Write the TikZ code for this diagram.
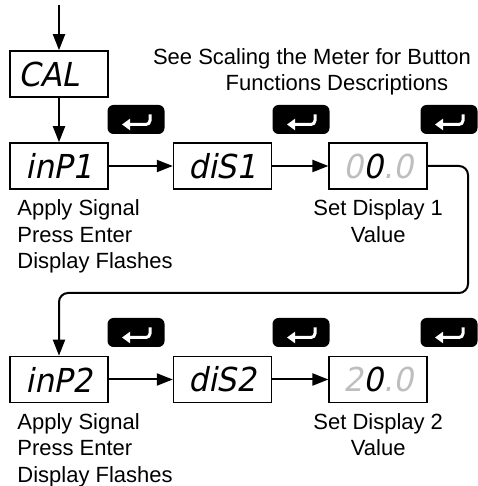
\documentclass[tikz,border=0pt]{standalone}
\usepackage{fontspec}
\setmainfont{Liberation Sans}
\newfontfamily\segfont[FakeSlant=0.2,FakeStretch=0.95]{DejaVu Sans}
\usetikzlibrary{arrows.meta,positioning}
\definecolor{segoff}{RGB}{190,190,190}
\tikzset{
  >={Triangle[length=16pt,width=12pt]},
  lcd/.style={draw,line width=1.6pt,minimum width=98pt,minimum height=46pt,
    inner sep=0pt,font=\segfont\fontsize{33}{33}\selectfont},
  enter/.style={fill=black,rounded corners=6pt,minimum width=57pt,
    minimum height=29pt,inner sep=0pt},
  flow/.style={->,line width=2pt},
  caption/.style={font=\fontsize{22}{26.5}\selectfont,inner sep=0pt},
  % return key pictogram
  pics/retkey/.style={code={
    \draw[white,line width=3pt,rounded corners=4pt,-{Triangle[length=8pt,width=11pt]}]
      (14,5) -- (14,-5) -- (-14,-5);
  }},
}

\begin{document}
\begin{tikzpicture}[x=1pt,y=1pt]
  \useasboundingbox (0,0) rectangle (477,486);
  % displays
  \node[lcd] (cal) at (59,412) {CAL\hphantom{0}};
  \node[lcd] (inp1) at (59,320) {inP1};
  \node[lcd,right=64pt of inp1] (dis1) {diS1};
  \node[lcd,right=56pt of dis1] (val1) {{\color{segoff}0}0{\color{segoff}.0}};
  \node[lcd] (inp2) at (59,106.5) {inP2};
  \node[lcd,right=64pt of inp2] (dis2) {diS2};
  \node[lcd,right=56pt of dis2] (val2) {{\color{segoff}2}0{\color{segoff}.0}};

  % enter keys
  \foreach \n/\x in {1/136,2/301,3/449} {
    \node[enter] (keya\n) at (\x,366.5) {};
    \pic at (keya\n) {retkey};
    \node[enter] (keyb\n) at (\x,153.5) {};
    \pic at (keyb\n) {retkey};
  }

  % texts
  \node[caption,align=center,anchor=north] (note) at (312,438)
    {See Scaling the Meter for Button\\\hspace*{50pt}Functions Descriptions};
  \node[caption,align=left,anchor=north west] (help1) at ([xshift=8pt,yshift=-10pt]inp1.south west)
    {Apply Signal\\Press Enter\\Display Flashes};
  \node[caption,align=center,anchor=north] (set1) at ([yshift=-10pt]val1.south)
    {Set Display 1\\Value};
  \node[caption,align=left,anchor=north west] (help2) at ([xshift=8pt,yshift=-10pt]inp2.south west)
    {Apply Signal\\Press Enter\\Display Flashes};
  \node[caption,align=center,anchor=north] (set2) at ([yshift=-10pt]val2.south)
    {Set Display 2\\Value};

  % flow
  \coordinate (start) at (59,481);
  \coordinate (turn) at (468,193);
  \draw[flow] (start) -- (cal);
  \draw[flow] (cal) -- (inp1);
  \draw[flow] (inp1) -- (dis1);
  \draw[flow] (dis1) -- (val1);
  \draw[flow,rounded corners=9pt] (val1.east) -| (turn) -| (inp2.north);
  \draw[flow] (inp2) -- (dis2);
  \draw[flow] (dis2) -- (val2);
\end{tikzpicture}
\end{document}
